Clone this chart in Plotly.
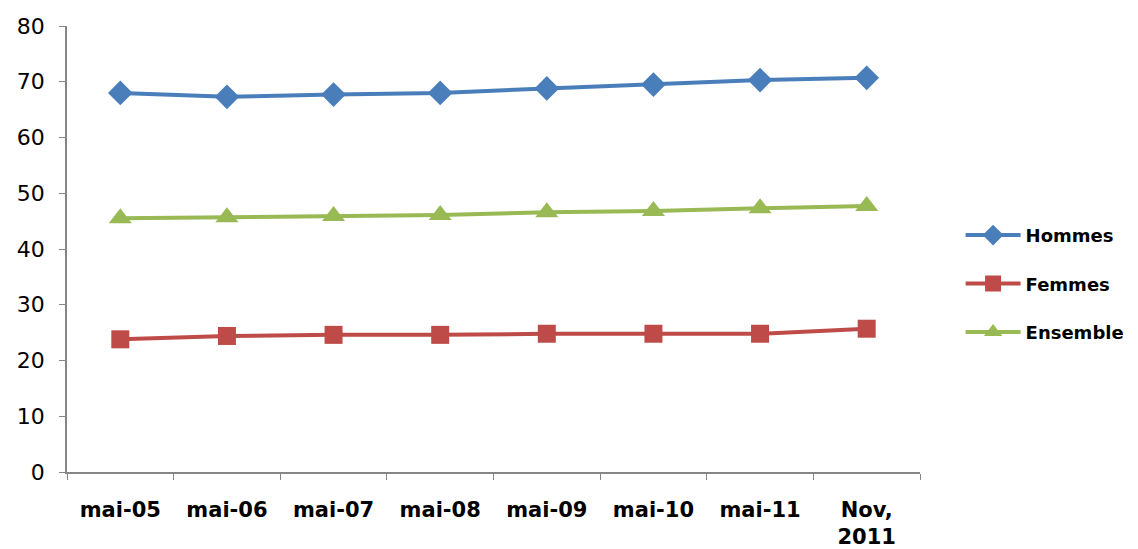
import plotly.graph_objects as go

categories = ["mai-05", "mai-06", "mai-07", "mai-08", "mai-09", "mai-10", "mai-11", "Nov,<br>2011"]
hommes = [68.0, 67.3, 67.7, 68.0, 68.8, 69.5, 70.3, 70.7]
femmes = [23.8, 24.4, 24.6, 24.6, 24.8, 24.8, 24.8, 25.7]
ensemble = [45.5, 45.7, 45.9, 46.1, 46.6, 46.8, 47.3, 47.7]

series = [
    ("Hommes", hommes, "#4A7EBB", "diamond", 19),
    ("Femmes", femmes, "#BE4B48", "square", 18),
    ("Ensemble", ensemble, "#98B954", "triangle-up", 20),
]

fig = go.Figure()
for name, vals, color, sym, size in series:
    fig.add_trace(go.Scatter(
        x=categories, y=vals, name=name, mode="lines+markers",
        line=dict(color=color, width=4),
        marker=dict(symbol=sym, size=size, color=color),
        legendgroup=name,
    ))

fig.update_layout(
    width=1130, height=541,
    margin=dict(l=59, r=218, t=18, b=77),
    plot_bgcolor="white", paper_bgcolor="white",
    showlegend=True,
    legend=dict(
        xref="container", yref="container",
        x=0.843, xanchor="left", y=0.49, yanchor="middle",
        font=dict(family="DejaVu Sans", size=18, color="black", weight="bold"),
        itemwidth=55, tracegroupgap=22,
    ),
    xaxis=dict(
        type="category", tickson="boundaries", showgrid=False, automargin=False,
        showline=True, linecolor="#868686", linewidth=1.5,
        ticks="outside", ticklen=6, tickcolor="#868686",
        tickfont=dict(family="DejaVu Sans", size=21, color="black", weight="bold"),
        ticklabelstandoff=18,
        range=[-0.5, 7.5],
    ),
    yaxis=dict(
        range=[0, 80], dtick=10, showgrid=False, zeroline=False, automargin=False,
        showline=True, linecolor="#868686", linewidth=1.5,
        ticks="outside", ticklen=6, tickcolor="#868686",
        tickfont=dict(family="DejaVu Sans", size=22, color="black"),
        ticklabelstandoff=10,
    ),
)

fig.write_html("out.html")
